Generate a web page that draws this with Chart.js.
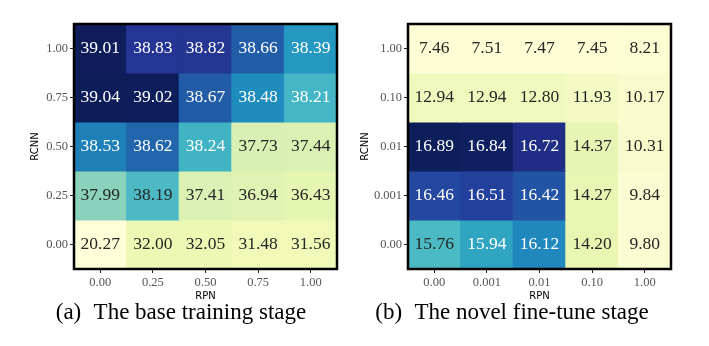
<!DOCTYPE html>
<html><head><meta charset="utf-8">
<script src="https://cdn.jsdelivr.net/npm/chart.js@4"></script>
<style>
html,body{margin:0;padding:0;background:#fff;}
#wrap{position:relative;width:709px;height:346px;overflow:hidden;background:#fff;}
.cv{position:absolute;top:0;}
.cap{position:absolute;top:299px;font-family:'Liberation Serif','Times New Roman',serif;font-size:23px;line-height:26px;color:#000;white-space:nowrap;transform:translateX(-50%);}
.cap .tag{margin-right:7px;}
</style></head><body>
<div id="wrap">
  <div class="cv" style="left:0;"><canvas id="c1" width="354" height="346"></canvas></div>
  <div class="cv" style="left:354px;"><canvas id="c2" width="355" height="346"></canvas></div>
  <div class="cap" style="left:181px;"><span class="tag">(a)</span> The base training stage</div>
  <div class="cap" style="left:512px;"><span class="tag">(b)</span> The novel fine-tune stage</div>
</div>
<script>
// ---------- data ----------
// (a) base training stage: columns = RPN, rows = RCNN (top to bottom)
const baseRpnLabels  = ['0.00', '0.25', '0.50', '0.75', '1.00'];
const baseRcnnLabels = ['1.00', '0.75', '0.50', '0.25', '0.00'];
const baseValues = [
  [39.01, 38.83, 38.82, 38.66, 38.39],
  [39.04, 39.02, 38.67, 38.48, 38.21],
  [38.53, 38.62, 38.24, 37.73, 37.44],
  [37.99, 38.19, 37.41, 36.94, 36.43],
  [20.27, 32.00, 32.05, 31.48, 31.56]
];
// (b) novel fine-tune stage
const novelRpnLabels  = ['0.00', '0.001', '0.01', '0.10', '1.00'];
const novelRcnnLabels = ['1.00', '0.10', '0.01', '0.001', '0.00'];
const novelValues = [
  [7.46, 7.51, 7.47, 7.45, 8.21],
  [12.94, 12.94, 12.80, 11.93, 10.17],
  [16.89, 16.84, 16.72, 14.37, 10.31],
  [16.46, 16.51, 16.42, 14.27, 9.84],
  [15.76, 15.94, 16.12, 14.20, 9.80]
];

// ---------- styles (cell colours, YlGnBu as in the reference) ----------
const baseColors = [
  ['#0f1e5b', '#253594', '#243592', '#225ea8', '#2498c1'],
  ['#0c1d58', '#0d1e5a', '#225ba6', '#1f8cbe', '#45b6c5'],
  ['#1f80b8', '#2165aa', '#40b3c5', '#d8f0b3', '#daf1b3'],
  ['#8bd2bc', '#4cb9c4', '#dbf1b3', '#e0f3b2', '#e5f5b2'],
  ['#feffd8', '#eef8b5', '#eef8b5', '#f0f9b8', '#f0f9b8']
];
const novelColors = [
  ['#fdfed6', '#fdfed6', '#fdfed6', '#fdfed6', '#fbfdd3'],
  ['#eff9bd', '#eff9bd', '#f0f9be', '#f3fac4', '#f8fccd'],
  ['#0c1f5a', '#0e2060', '#1f2d85', '#e6f5b4', '#f8fccd'],
  ['#2448a0', '#23409c', '#2253a4', '#e7f6b3', '#fafcd1'],
  ['#4cbac4', '#30a5c2', '#2088bd', '#e8f6b2', '#fafcd1']
];

const SERIF = "'Liberation Serif', 'Times New Roman', serif";
const SANS = "'DejaVu Sans', sans-serif";

function buildHeatmap(canvasId, xLabels, yLabels, values, colors, whiteFrom, pad, yAxisWidth) {
  const n = yLabels.length;
  const datasets = values.map((row, r) => ({
    label: yLabels[r],
    data: row.map(() => [n - 1 - r, n - r]),
    backgroundColor: colors[r],
    borderWidth: 0,
    inflateAmount: 0.5,
    barPercentage: 1,
    categoryPercentage: 1,
    grouped: false,
    yAxisID: 'y'
  }));

  const cellPlugin = {
    id: 'cellPlugin',
    afterDatasetsDraw(chart) {
      const ctx = chart.ctx;
      ctx.save();
      ctx.font = '17.5px ' + SERIF;
      ctx.textAlign = 'center';
      ctx.textBaseline = 'middle';
      chart.data.datasets.forEach((ds, r) => {
        chart.getDatasetMeta(r).data.forEach((el, c) => {
          const v = values[r][c];
          ctx.fillStyle = v >= whiteFrom ? '#ffffff' : '#262626';
          ctx.fillText(v.toFixed(2), el.x, (el.y + el.base) / 2);
        });
      });
      ctx.restore();
    },
    afterDraw(chart) {
      const a = chart.chartArea;
      const ctx = chart.ctx;
      ctx.save();
      ctx.strokeStyle = '#000';
      ctx.lineWidth = 2.5;
      ctx.strokeRect(a.left, a.top, a.right - a.left, a.bottom - a.top);
      ctx.restore();
    }
  };

  const tickGrid = { display: true, drawOnChartArea: false, drawTicks: true, tickLength: 4, tickWidth: 1, tickColor: '#222', offset: false };

  return new Chart(document.getElementById(canvasId), {
    type: 'bar',
    data: { labels: xLabels, datasets },
    options: {
      responsive: false,
      animation: false,
      layout: { padding: pad },
      plugins: { legend: { display: false }, tooltip: { enabled: false }, title: { display: false } },
      scales: {
        x: {
          type: 'category',
          offset: true,
          grid: tickGrid,
          border: { display: false },
          ticks: { font: { family: SERIF, size: 12.5 }, color: '#555', padding: 2, maxRotation: 0, autoSkip: false },
          title: { display: true, text: 'RPN', font: { family: SANS, size: 10 }, color: '#000', padding: { top: 0, bottom: 0 } },
          afterFit: s => { s.height = 33; }
        },
        y: { type: 'linear', min: 0, max: n, display: false },
        yl: {
          type: 'category',
          labels: yLabels,
          position: 'left',
          offset: true,
          grid: tickGrid,
          border: { display: false },
          ticks: { font: { family: SERIF, size: 12.5 }, color: '#555', padding: 2, autoSkip: false },
          title: { display: true, text: 'RCNN', font: { family: SANS, size: 10 }, color: '#000', padding: { top: 1, bottom: 0 } },
          afterFit: s => { s.width = yAxisWidth; }
        }
      }
    },
    plugins: [cellPlugin]
  });
}

buildHeatmap('c1', baseRpnLabels, baseRcnnLabels, baseValues, baseColors, 38.2,
  { left: 28, right: 17, top: 24, bottom: 44 }, 46);
buildHeatmap('c2', novelRpnLabels, novelRcnnLabels, novelValues, novelColors, 15.9,
  { left: 4, right: 38, top: 24, bottom: 44 }, 50);
</script>
</body></html>
